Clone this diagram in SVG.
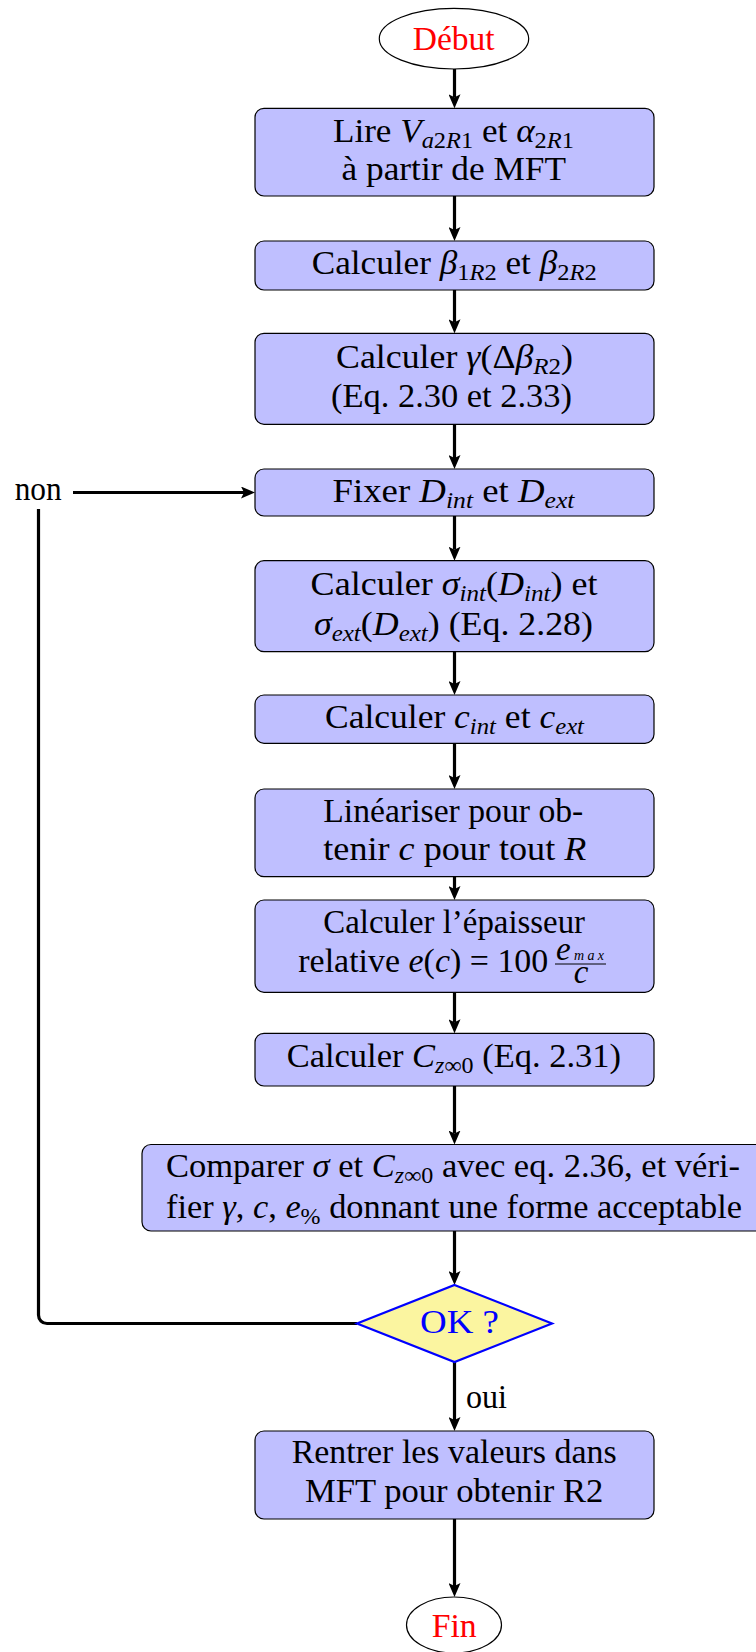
<svg xmlns="http://www.w3.org/2000/svg" width="756" height="1652" viewBox="0 0 756 1652">
<style>
text{font-family:"Liberation Serif","DejaVu Serif",serif;font-size:33px;fill:#000}
.i{font-style:italic}
.red{fill:#ff0000}
.blue{fill:#0000ff}
.box{fill:#bfbfff;stroke:#000;stroke-width:1.2}
.term{fill:#fff;stroke:#000;stroke-width:1.2}
.dec{fill:#fbf5a0;stroke:#0000ff;stroke-width:2.2}
.c{fill:none;stroke:#000;stroke-width:3.2}
</style>
<defs>
<marker id="ah" markerUnits="userSpaceOnUse" viewBox="0 0 14 12" markerWidth="14" markerHeight="12" refX="3" refY="6" orient="auto">
<path d="M0,0 L14,6 L0,12 L3,6 Z" fill="#000"/>
</marker>
</defs>

<g id="connectors">
<path class="c" d="M454.5,69 V97.3" marker-end="url(#ah)"/>
<path class="c" d="M454.5,196 V230" marker-end="url(#ah)"/>
<path class="c" d="M454.5,290 V322.3" marker-end="url(#ah)"/>
<path class="c" d="M454.5,424.3 V458" marker-end="url(#ah)"/>
<path class="c" d="M454.5,516 V549.7" marker-end="url(#ah)"/>
<path class="c" d="M454.5,651.7 V684" marker-end="url(#ah)"/>
<path class="c" d="M454.5,743.3 V778" marker-end="url(#ah)"/>
<path class="c" d="M454.5,876.7 V889" marker-end="url(#ah)"/>
<path class="c" d="M454.5,992.3 V1022.3" marker-end="url(#ah)"/>
<path class="c" d="M454.5,1086 V1133.5" marker-end="url(#ah)"/>
<path class="c" d="M454.5,1231 V1274" marker-end="url(#ah)"/>
<path class="c" d="M454.5,1362 V1420" marker-end="url(#ah)"/>
<path class="c" d="M454.5,1519 V1586" marker-end="url(#ah)"/>
<path class="c" d="M73,492.5 H244" marker-end="url(#ah)"/>
<path class="c" d="M357,1323.5 H47 A8.5,8.5 0 0 1 38.5,1315 V509"/>
<text x="466" y="1408" textLength="41" lengthAdjust="spacingAndGlyphs">oui</text>
<text x="14.7" y="500" textLength="47" lengthAdjust="spacingAndGlyphs">non</text>
</g>

<g id="debut">
<ellipse class="term" cx="454" cy="38.7" rx="74.7" ry="30.3"/>
<text class="red" x="412.7" y="50" textLength="82" lengthAdjust="spacingAndGlyphs">Début</text>
</g>

<g id="lire">
<rect class="box" x="255" y="108.3" width="399" height="87.7" rx="9"/>
<text x="333" y="141.7" textLength="241" lengthAdjust="spacingAndGlyphs">Lire <tspan class="i">V</tspan><tspan dy="6" font-size="23"><tspan class="i">a</tspan>2<tspan class="i">R</tspan>1</tspan><tspan dy="-6"> et </tspan><tspan class="i">α</tspan><tspan dy="6" font-size="23">2<tspan class="i">R</tspan>1</tspan></text>
<text x="341.5" y="180" textLength="224.5" lengthAdjust="spacingAndGlyphs">à partir de MFT</text>
</g>

<g id="beta">
<rect class="box" x="255" y="241" width="399" height="49" rx="9"/>
<text x="311.7" y="274" textLength="285" lengthAdjust="spacingAndGlyphs">Calculer <tspan class="i">β</tspan><tspan dy="6" font-size="23">1<tspan class="i">R</tspan>2</tspan><tspan dy="-6"> et </tspan><tspan class="i">β</tspan><tspan dy="6" font-size="23">2<tspan class="i">R</tspan>2</tspan></text>
</g>

<g id="gamma">
<rect class="box" x="255" y="333.3" width="399" height="91" rx="9"/>
<text x="336" y="368.3" textLength="237" lengthAdjust="spacingAndGlyphs">Calculer <tspan class="i">γ</tspan>(Δ<tspan class="i">β</tspan><tspan dy="6" font-size="23"><tspan class="i">R</tspan>2</tspan><tspan dy="-6">)</tspan></text>
<text x="331" y="407.3" textLength="241" lengthAdjust="spacingAndGlyphs">(Eq. 2.30 et 2.33)</text>
</g>

<g id="fixer">
<rect class="box" x="255" y="469" width="399" height="47" rx="9"/>
<text x="332.5" y="501.7" textLength="242" lengthAdjust="spacingAndGlyphs">Fixer <tspan class="i">D</tspan><tspan dy="6" font-size="23" class="i">int</tspan><tspan dy="-6"> et </tspan><tspan class="i">D</tspan><tspan dy="6" font-size="23" class="i">ext</tspan></text>
</g>

<g id="sigma">
<rect class="box" x="255" y="560.7" width="399" height="91" rx="9"/>
<text x="310.6" y="595" textLength="287" lengthAdjust="spacingAndGlyphs">Calculer <tspan class="i">σ</tspan><tspan dy="6" font-size="23" class="i">int</tspan><tspan dy="-6">(</tspan><tspan class="i">D</tspan><tspan dy="6" font-size="23" class="i">int</tspan><tspan dy="-6">) et</tspan></text>
<text x="314" y="635" textLength="279" lengthAdjust="spacingAndGlyphs"><tspan class="i">σ</tspan><tspan dy="6" font-size="23" class="i">ext</tspan><tspan dy="-6">(</tspan><tspan class="i">D</tspan><tspan dy="6" font-size="23" class="i">ext</tspan><tspan dy="-6">) (Eq. 2.28)</tspan></text>
</g>

<g id="corde">
<rect class="box" x="255" y="695" width="399" height="48.3" rx="9"/>
<text x="325" y="728.3" textLength="259" lengthAdjust="spacingAndGlyphs">Calculer <tspan class="i">c</tspan><tspan dy="6" font-size="23" class="i">int</tspan><tspan dy="-6"> et </tspan><tspan class="i">c</tspan><tspan dy="6" font-size="23" class="i">ext</tspan></text>
</g>

<g id="lineariser">
<rect class="box" x="255" y="789" width="399" height="87.7" rx="9"/>
<text x="323.3" y="821.7" textLength="260" lengthAdjust="spacingAndGlyphs">Linéariser pour ob-</text>
<text x="323.3" y="860" textLength="263" lengthAdjust="spacingAndGlyphs">tenir <tspan class="i">c</tspan> pour tout <tspan class="i">R</tspan></text>
</g>

<g id="epaisseur">
<rect class="box" x="255" y="900" width="399" height="92.3" rx="9"/>
<text x="323.3" y="933.3" textLength="261.7" lengthAdjust="spacingAndGlyphs">Calculer l’épaisseur</text>
<text x="298.3" y="972.3" textLength="250" lengthAdjust="spacingAndGlyphs">relative <tspan class="i">e</tspan>(<tspan class="i">c</tspan>) = 100</text>
<text x="556" y="960" textLength="48" lengthAdjust="spacing" font-size="19"><tspan class="i">e</tspan><tspan font-size="14" class="i">max</tspan></text>
<line x1="555" y1="964" x2="606" y2="964" stroke="#000" stroke-width="1"/>
<text x="581" y="983" font-size="20" text-anchor="middle" class="i">c</text>
</g>

<g id="cz">
<rect class="box" x="255" y="1033.3" width="399" height="52.7" rx="9"/>
<text x="286.7" y="1067.3" textLength="334.3" lengthAdjust="spacingAndGlyphs">Calculer <tspan class="i">C</tspan><tspan dy="6" font-size="23"><tspan class="i">z</tspan>∞0</tspan><tspan dy="-6"> (Eq. 2.31)</tspan></text>
</g>

<g id="comparer">
<rect class="box" x="142" y="1144.5" width="625" height="86.5" rx="9"/>
<text x="166" y="1176.7" textLength="574" lengthAdjust="spacingAndGlyphs">Comparer <tspan class="i">σ</tspan> et <tspan class="i">C</tspan><tspan dy="6" font-size="23"><tspan class="i">z</tspan>∞0</tspan><tspan dy="-6"> avec eq. 2.36, et véri-</tspan></text>
<text x="166" y="1218.3" textLength="576" lengthAdjust="spacingAndGlyphs">fier <tspan class="i">γ</tspan>, <tspan class="i">c</tspan>, <tspan class="i">e</tspan><tspan dy="6" font-size="23">%</tspan><tspan dy="-6"> donnant une forme acceptable</tspan></text>
</g>

<g id="ok">
<polygon class="dec" points="454.5,1285 552,1323.5 454.5,1362 357,1323.5"/>
<text class="blue" x="420" y="1333" textLength="79" lengthAdjust="spacingAndGlyphs">OK ?</text>
</g>

<g id="rentrer">
<rect class="box" x="255" y="1431" width="399" height="88" rx="9"/>
<text x="291.7" y="1463.3" textLength="325" lengthAdjust="spacingAndGlyphs">Rentrer les valeurs dans</text>
<text x="305" y="1501.7" textLength="298.3" lengthAdjust="spacingAndGlyphs">MFT pour obtenir R2</text>
</g>

<g id="fin">
<ellipse class="term" cx="454" cy="1625" rx="47.5" ry="28"/>
<text class="red" x="431.7" y="1637.3" textLength="45" lengthAdjust="spacingAndGlyphs">Fin</text>
</g>
</svg>
